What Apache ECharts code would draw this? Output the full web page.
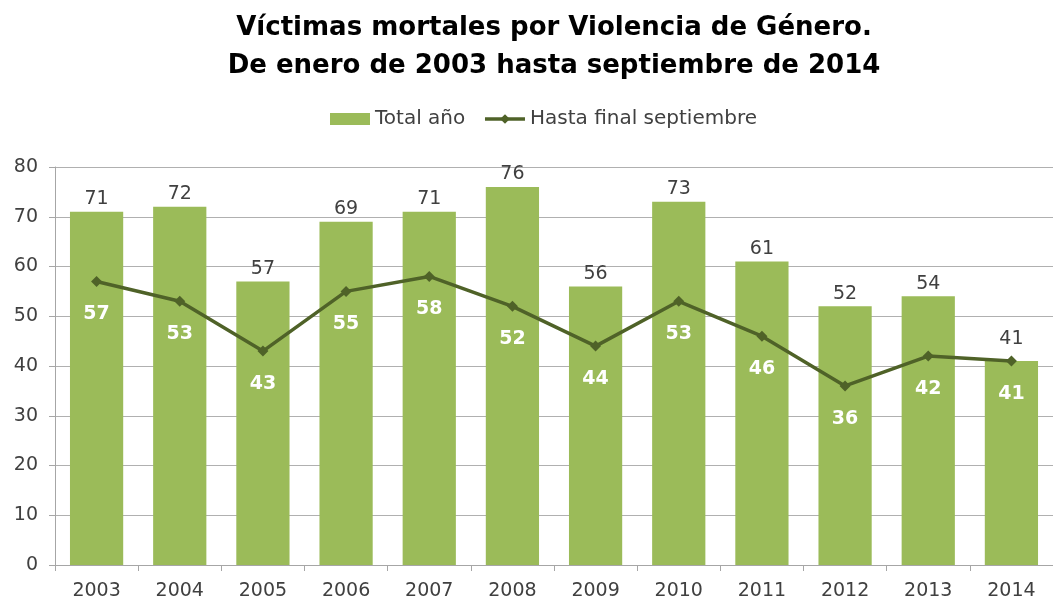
<!DOCTYPE html>
<html>
<head>
<meta charset="utf-8">
<script src="https://cdn.jsdelivr.net/npm/echarts@6/dist/echarts.min.js"></script>
<style>
  html, body { margin: 0; padding: 0; background: #fff; }
  #chart { width: 1053px; height: 601px; }
</style>
</head>
<body>
<div id="chart"></div>
<script>
var years = ['2003', '2004', '2005', '2006', '2007', '2008', '2009', '2010', '2011', '2012', '2013', '2014'];
var totalAnio = [71, 72, 57, 69, 71, 76, 56, 73, 61, 52, 54, 41];
var hastaSeptiembre = [57, 53, 43, 55, 58, 52, 44, 53, 46, 36, 42, 41];

var font = '"DejaVu Sans", sans-serif';
var chart = echarts.init(document.getElementById('chart'));

// la etiqueta del último año sube por encima del marcador de la línea
var barData = totalAnio.map(function (v, i) {
    if (i === totalAnio.length - 1) {
        return { value: v, label: { distance: 12 } };
    }
    return v;
});

var option = {
    backgroundColor: '#fff',
    animation: false,
    textStyle: { fontFamily: font },
    title: {
        text: 'Víctimas mortales por Violencia de Género.\nDe enero de 2003 hasta septiembre de 2014',
        left: 549,
        textAlign: 'center',
        top: 4,
        textStyle: {
            fontFamily: font,
            fontSize: 26,
            fontWeight: 'bold',
            color: '#000',
            lineHeight: 38
        }
    },
    legend: {
        top: 104,
        left: 325,
        itemWidth: 40,
        itemHeight: 12,
        itemGap: 18,
        textStyle: { fontSize: 20, color: '#404040', fontFamily: font },
        data: [
            { name: 'Total año', icon: 'rect' },
            { name: 'Hasta final septiembre', lineStyle: { width: 3.5 } }
        ]
    },
    grid: {
        left: 55,
        right: 0,
        top: 167,
        bottom: 34
    },
    xAxis: {
        type: 'category',
        data: years,
        axisLine: { lineStyle: { color: '#A6A6A6', width: 1 } },
        axisTick: { show: true, length: 6, lineStyle: { color: '#A6A6A6' } },
        axisLabel: { color: '#404040', fontSize: 19, margin: 17, fontFamily: font }
    },
    yAxis: {
        type: 'value',
        min: 0,
        max: 80,
        interval: 10,
        axisLine: { show: true, lineStyle: { color: '#A6A6A6' } },
        axisTick: { show: true, length: 6, lineStyle: { color: '#A6A6A6' } },
        axisLabel: { color: '#404040', fontSize: 19, margin: 17, fontFamily: font },
        splitLine: { lineStyle: { color: '#B0B0B0', width: 1 } }
    },
    series: [
        {
            name: 'Total año',
            type: 'bar',
            data: barData,
            barWidth: '64%',
            itemStyle: { color: '#9BBB59' },
            label: {
                show: true,
                position: 'top',
                distance: 3,
                color: '#404040',
                fontSize: 19,
                fontFamily: font
            }
        },
        {
            name: 'Hasta final septiembre',
            type: 'line',
            data: hastaSeptiembre,
            symbol: 'diamond',
            symbolSize: 11,
            lineStyle: { color: '#4F6228', width: 3.5 },
            itemStyle: { color: '#4F6228' },
            label: {
                show: true,
                position: 'bottom',
                distance: 18,
                color: '#fff',
                fontSize: 19,
                fontWeight: 'bold',
                fontFamily: font
            },
            z: 5
        }
    ]
};

chart.setOption(option);
</script>
</body>
</html>
